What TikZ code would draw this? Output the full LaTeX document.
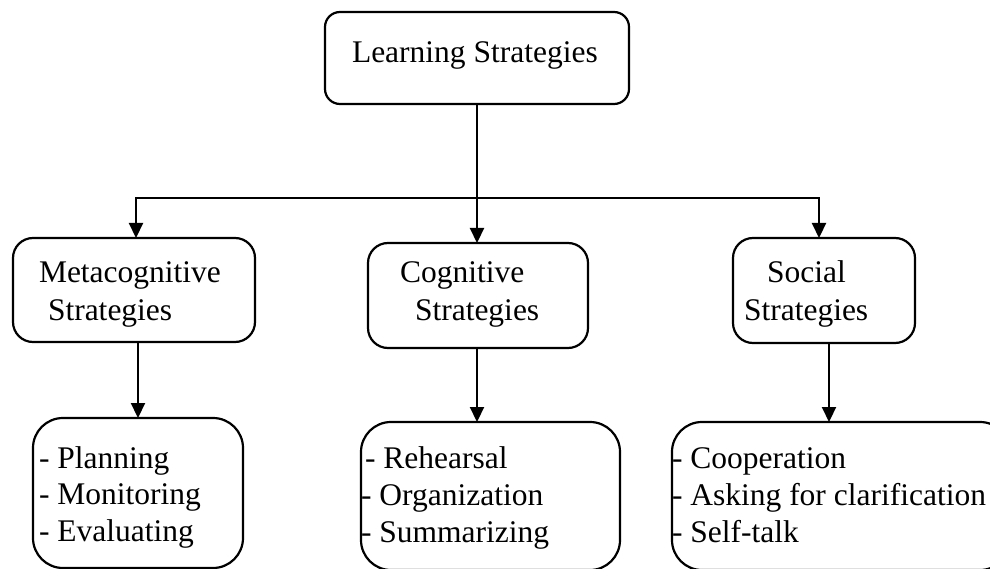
\documentclass[tikz,border=0pt]{standalone}
\usepackage{fontspec}
\setmainfont{Liberation Serif}
\usetikzlibrary{arrows.meta}
\begin{document}
\begin{tikzpicture}[x=1pt,y=-1pt,
  box/.style={draw,line width=2.2pt,rounded corners=#1,inner sep=0pt,outer sep=0pt},
  box/.default=20pt,
  txt/.style={anchor=base west,inner sep=0pt,outer sep=0pt,font=\fontsize{31.5}{37}\selectfont},
  arr/.style={line width=2.2pt,-{Triangle[length=15pt,width=14pt]}}]
\useasboundingbox (0,0) rectangle (990,569);
% boxes
\node[box=15pt,minimum width=304pt,minimum height=92pt] (top) at (477,58) {};
\node[box=20pt,minimum width=242pt,minimum height=104pt] (meta) at (134,290) {};
\node[box=20pt,minimum width=220pt,minimum height=105pt] (cog) at (478,295.5) {};
\node[box=20pt,minimum width=182pt,minimum height=105pt] (soc) at (824,290.5) {};
\node[box=30pt,minimum width=210pt,minimum height=150pt] (bmeta) at (138,493) {};
\node[box=30pt,minimum width=259pt,minimum height=148pt] (bcog) at (490.5,496) {};
\node[box=30pt,minimum width=338pt,minimum height=148pt] (bsoc) at (841,496) {};
% texts
\node[txt] (t0) at (352,63) {Learning Strategies};
\node[txt] (t1a) at (39,283) {Metacognitive};
\node[txt] (t1b) at (48,320) {Strategies};
\node[txt] (t2a) at (400,283) {Cognitive};
\node[txt] (t2b) at (415,320) {Strategies};
\node[txt] (t3a) at (767,283) {Social};
\node[txt] (t3b) at (744,320) {Strategies};
\node[txt] (b1a) at (39,468) {- Planning};
\node[txt] (b1b) at (39,504) {- Monitoring};
\node[txt] (b1c) at (39,541) {- Evaluating};
\node[txt] (b2a) at (365,468) {- Rehearsal};
\node[txt] (b2b) at (361,505) {- Organization};
\node[txt] (b2c) at (361,542) {- Summarizing};
\node[txt] (b3a) at (672,468) {- Cooperation};
\node[txt] (b3b) at (672,505) {- Asking for clarification};
\node[txt] (b3c) at (672,542) {- Self-talk};
% connectors
\coordinate (j) at (477,198);
\draw[arr] (top.south) -- (top.south |- cog.north);
\draw[arr] (j) -| ([xshift=2pt]meta.north);
\draw[arr] (j) -| ([xshift=-5pt]soc.north);
\draw[arr] (bmeta.north |- meta.south) -- (bmeta.north);
\draw[arr] (top.south |- cog.south) -- (top.south |- bcog.north);
\draw[arr] ([xshift=5pt]soc.south) -- ([xshift=5pt]soc.south |- bsoc.north);
\end{tikzpicture}
\end{document}
